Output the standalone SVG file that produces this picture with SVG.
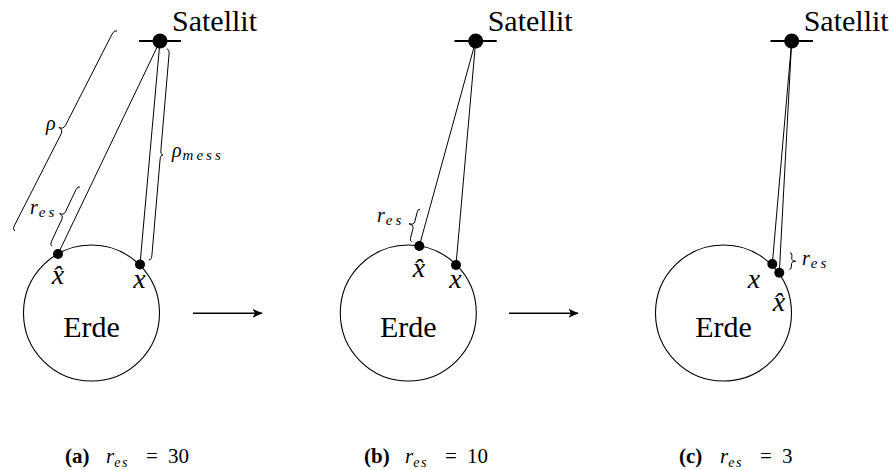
<svg xmlns="http://www.w3.org/2000/svg" width="893" height="470" viewBox="0 0 893 470">
<style>
.ln{stroke:#000;stroke-width:1;fill:none}
.earth{fill:none;stroke:#000;stroke-width:1.1}
.br{fill:none;stroke:#000;stroke-width:1}
.bar{stroke:#000;stroke-width:1.8}
.dot{fill:#000}
.arr{stroke:#000;stroke-width:1.6;marker-end:url(#ah)}
text{font-family:"Liberation Serif","Times New Roman",serif}
.big{font-size:30px}
.mx{font-size:28px;font-style:italic}
.ml{font-size:20px;font-style:italic}
.sub{font-size:15px;font-style:italic;letter-spacing:3px}
.cap{font-size:21px}
.b{font-weight:bold}
.i{font-style:italic}
</style>
<defs>
<marker id="ah" markerUnits="userSpaceOnUse" viewBox="0 0 10 10" markerWidth="10" markerHeight="10" refX="9.5" refY="5" orient="auto">
<path d="M0,0.6 L10,5 L0,9.4 L2.6,5 Z" fill="#000"/>
</marker>
</defs>

<g id="connectors">
<line class="ln" x1="160" y1="41" x2="58" y2="254"/>
<line class="ln" x1="160" y1="41" x2="140" y2="264.5"/>
<path class="br" d="M117,31 Q114.33,29.64 112.06,34.09 L65.6,125.19 Q63.33,129.64 58.87,127.37 Q63.33,129.64 61.06,134.09 L14.6,225.19 Q12.33,229.64 15,231"/>
<path class="br" d="M80,187 Q77.74,185.93 76.02,189.54 L65.46,211.82 Q63.74,215.43 59.68,213.5 Q63.74,215.43 62.02,219.04 L51.46,241.32 Q49.74,244.93 52,246"/>
<path class="br" d="M167,49 Q169.49,49.21 169.06,54.19 L160.92,149.73 Q160.49,154.71 162.98,154.93 Q160.49,154.71 160.06,159.69 L151.92,255.23 Q151.49,260.21 149,260"/>
<line class="ln" x1="475.7" y1="41" x2="419.3" y2="246"/>
<line class="ln" x1="475.7" y1="41" x2="456" y2="265"/>
<path class="br" d="M420,209.3 Q418.06,208.8 417.32,211.71 L414.65,222.09 Q413.91,225 409.07,223.76 Q413.91,225 413.17,227.91 L410.5,238.29 Q409.76,241.2 411.7,241.7"/>
<line class="ln" x1="791.7" y1="41" x2="772.3" y2="264"/>
<line class="ln" x1="791.7" y1="41" x2="779.3" y2="272.7"/>
<path class="br" d="M790,252.7 Q792,252.78 791.9,255.28 L791.75,258.58 Q791.65,261.08 795.64,261.25 Q791.65,261.08 791.55,263.58 L791.4,266.88 Q791.3,269.38 789.3,269.3"/>
<line class="arr" x1="193" y1="313.3" x2="262" y2="313.3"/>
<line class="arr" x1="509" y1="313.3" x2="578" y2="313.3"/>
</g>

<g id="a-satellite">
<line class="bar" x1="139" y1="41" x2="181" y2="41"/>
<circle class="dot" cx="160" cy="41" r="7.5"/>
<text class="big" x="172" y="31">Satellit</text>
</g>
<g id="a-earth">
<circle class="earth" cx="91.5" cy="313" r="68"/>
<text class="big" x="91.5" y="337" text-anchor="middle">Erde</text>
</g>
<g id="a-xhat">
<circle class="dot" cx="58" cy="254" r="5"/>
<text class="mx" x="58" y="284" text-anchor="middle">x̂</text>
</g>
<g id="a-x">
<circle class="dot" cx="140" cy="264.5" r="5"/>
<text class="mx" x="139.5" y="288" text-anchor="middle">x</text>
</g>
<g id="a-labels">
<text class="ml" x="46" y="130">ρ</text>
<text x="30" y="214"><tspan class="ml">r</tspan><tspan class="sub" dx="1" dy="3">es</tspan></text>
<text x="172" y="157"><tspan class="ml">ρ</tspan><tspan class="sub" dx="1" dy="3" letter-spacing="3.5">mess</tspan></text>
</g>

<g id="b-satellite">
<line class="bar" x1="454.5" y1="41" x2="496.7" y2="41"/>
<circle class="dot" cx="475.7" cy="41" r="7.5"/>
<text class="big" x="487.7" y="31">Satellit</text>
</g>
<g id="b-earth">
<circle class="earth" cx="408.3" cy="313" r="68"/>
<text class="big" x="408.3" y="337" text-anchor="middle">Erde</text>
</g>
<g id="b-xhat">
<circle class="dot" cx="419.3" cy="246" r="5"/>
<text class="mx" x="419" y="277" text-anchor="middle">x̂</text>
</g>
<g id="b-x">
<circle class="dot" cx="456" cy="265" r="5"/>
<text class="mx" x="455.5" y="288" text-anchor="middle">x</text>
</g>
<g id="b-labels">
<text x="377" y="222"><tspan class="ml">r</tspan><tspan class="sub" dx="1" dy="3">es</tspan></text>
</g>

<g id="c-satellite">
<line class="bar" x1="770.5" y1="41" x2="812.9" y2="41"/>
<circle class="dot" cx="791.7" cy="41" r="7.5"/>
<text class="big" x="803.7" y="31">Satellit</text>
</g>
<g id="c-earth">
<circle class="earth" cx="723.5" cy="313" r="68"/>
<text class="big" x="723.5" y="337" text-anchor="middle">Erde</text>
</g>
<g id="c-x">
<circle class="dot" cx="772.3" cy="264" r="5"/>
<text class="mx" x="754" y="288" text-anchor="middle">x</text>
</g>
<g id="c-xhat">
<circle class="dot" cx="779.3" cy="272.7" r="5"/>
<text class="mx" x="779" y="311" text-anchor="middle">x̂</text>
</g>
<g id="c-labels">
<text x="802" y="265"><tspan class="ml">r</tspan><tspan class="sub" dx="1" dy="3">es</tspan></text>
</g>

<g id="captions">
<text class="cap" y="463"><tspan class="b" x="65">(a)</tspan><tspan class="i" x="106">r</tspan><tspan class="i" font-size="14" dy="4" letter-spacing="1.5">es</tspan><tspan x="146" dy="-4">=</tspan><tspan x="168">30</tspan></text>
<text class="cap" y="463"><tspan class="b" x="364">(b)</tspan><tspan class="i" x="405">r</tspan><tspan class="i" font-size="14" dy="4" letter-spacing="1.5">es</tspan><tspan x="445" dy="-4">=</tspan><tspan x="467">10</tspan></text>
<text class="cap" y="463"><tspan class="b" x="679">(c)</tspan><tspan class="i" x="720">r</tspan><tspan class="i" font-size="14" dy="4" letter-spacing="1.5">es</tspan><tspan x="760" dy="-4">=</tspan><tspan x="782">3</tspan></text>
</g>
</svg>
